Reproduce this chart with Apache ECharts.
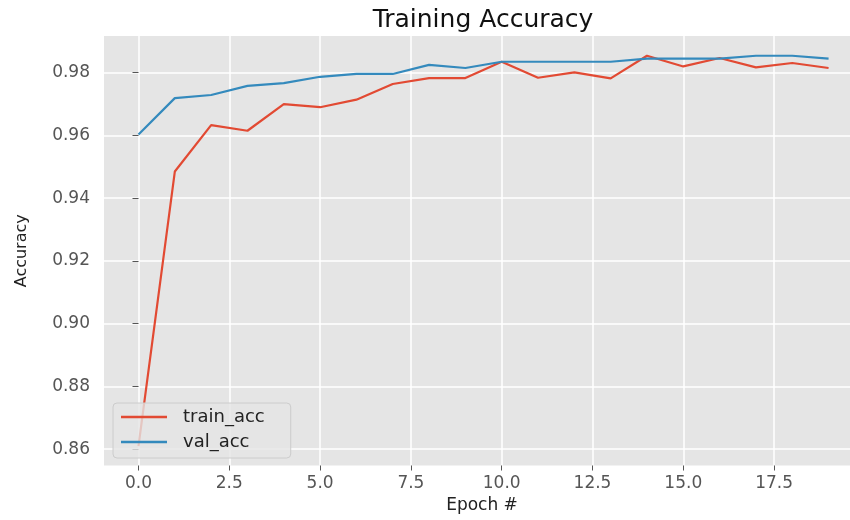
<!DOCTYPE html>
<html>
<head>
<meta charset="utf-8">
<script src="https://cdn.jsdelivr.net/npm/echarts@6/dist/echarts.min.js"></script>
<style>html,body{margin:0;padding:0;background:#fff}#c{width:850px;height:520px}</style>
</head>
<body>
<div id="c"></div>
<script>
const epochs = [0,1,2,3,4,5,6,7,8,9,10,11,12,13,14,15,16,17,18,19];
const trainAcc = [0.8610,0.9485,0.9633,0.9615,0.9700,0.9690,0.9714,0.9764,0.9783,0.9783,0.9835,0.9784,0.9801,0.9782,0.9854,0.9820,0.9847,0.9817,0.9831,0.9815];
const valAcc = [0.9603,0.9719,0.9729,0.9758,0.9767,0.9787,0.9796,0.9796,0.9825,0.9815,0.9835,0.9835,0.9835,0.9835,0.9845,0.9845,0.9845,0.9854,0.9854,0.9845];
const xTicks = [0,2.5,5,7.5,10,12.5,15,17.5];
const yTicks = [0.86,0.88,0.90,0.92,0.94,0.96,0.98];

const font = 'DejaVu Sans';
const chart = echarts.init(document.getElementById('c'), null, {renderer:'canvas'});
chart.setOption({
  animation: false,
  backgroundColor: '#ffffff',
  title: {
    text: 'Training Accuracy',
    left: 478, top: 3, textAlign: 'center',
    textStyle: {fontFamily: font, fontSize: 25, fontWeight: 'normal', color: '#111'}
  },
  grid: {left: 104, right: 0, top: 36, bottom: 54.5, backgroundColor: '#e5e5e5', show: true, borderWidth: 0},
  legend: {
    orient: 'vertical', left: 113, top: 403,
    data: [{name: 'train_acc', icon: 'rect'}, {name: 'val_acc', icon: 'rect'}],
    itemWidth: 46, itemHeight: 2.4, itemGap: 5,
    padding: [4, 26, 6, 8],
    backgroundColor: 'rgba(229,229,229,0.8)',
    borderColor: '#cccccc', borderWidth: 1, borderRadius: 4,
    textStyle: {fontFamily: font, fontSize: 18, color: '#222', padding: [0,0,0,11], lineHeight: 20}
  },
  xAxis: {
    type: 'value', min: -0.95, max: 19.59,
    name: 'Epoch #', nameLocation: 'middle', nameGap: 30,
    nameTextStyle: {fontFamily: font, fontSize: 17, color: '#222', padding: [0,0,0,10]},
    axisLine: {show: false},
    axisTick: {show: true, length: 5, lineStyle: {color: '#555', width: 1}, customValues: xTicks},
    axisLabel: {customValues: xTicks, fontFamily: font, fontSize: 17, color: '#555', margin: 10,
      formatter: v => v.toFixed(1)},
    splitLine: {show: true, lineStyle: {color: '#ffffff', width: 1.5}}
  },
  yAxis: {
    type: 'value', min: 0.8548, max: 0.9917,
    name: 'Accuracy', nameLocation: 'middle', nameGap: 74,
    nameTextStyle: {fontFamily: font, fontSize: 16, color: '#222'},
    axisLine: {show: false},
    axisTick: {show: true, length: 6, lineStyle: {color: '#555', width: 1}, customValues: yTicks},
    axisLabel: {customValues: yTicks, fontFamily: font, fontSize: 17, color: '#555', margin: 14,
      formatter: v => v.toFixed(2)},
    splitLine: {show: true, lineStyle: {color: '#ffffff', width: 1.5}}
  },
  series: [
    {name: 'train_acc', type: 'line', symbol: 'none', data: epochs.map((e,i)=>[e, trainAcc[i]]),
     lineStyle: {color: '#E24A33', width: 2.2}, itemStyle: {color: '#E24A33'}},
    {name: 'val_acc', type: 'line', symbol: 'none', data: epochs.map((e,i)=>[e, valAcc[i]]),
     lineStyle: {color: '#348ABD', width: 2.2}, itemStyle: {color: '#348ABD'}}
  ]
});
</script>
</body>
</html>
